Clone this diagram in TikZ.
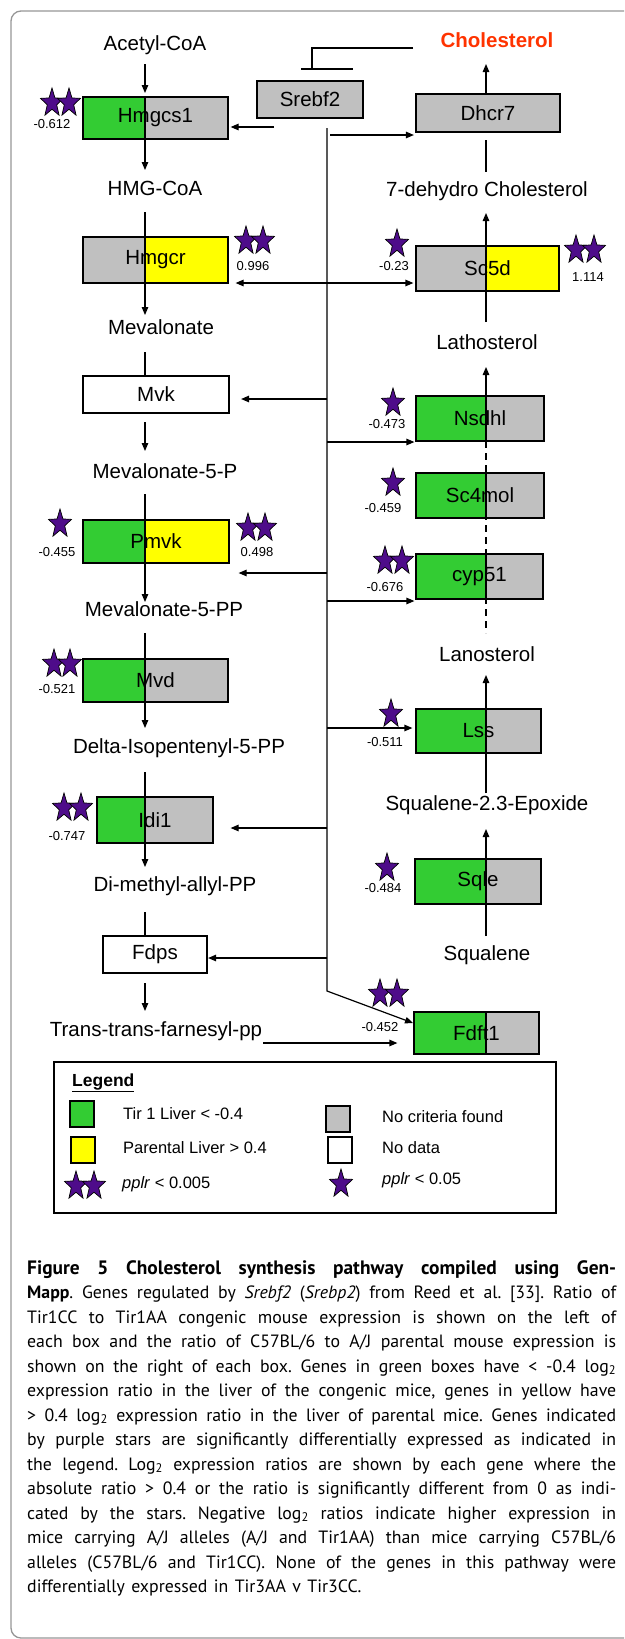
\documentclass[tikz,border=0pt]{standalone}
\usepackage{fontspec}
\setmainfont{Liberation Sans}
\newfontfamily\capfont[WordSpace=1.35]{PT Sans}
\usepackage{xcolor}
\usepackage{tikz}
\usetikzlibrary{arrows.meta}

\definecolor{tirgreen}{RGB}{51,204,51}
\definecolor{nocrit}{RGB}{192,192,192}
\definecolor{parentyellow}{RGB}{255,255,0}
\definecolor{starpurple}{RGB}{78,12,138}
\definecolor{cholred}{RGB}{255,51,0}
\definecolor{framegrey}{RGB}{150,150,150}

\newcommand{\capline}[1]{\makebox[589pt][s]{#1}}

\begin{document}
\frenchspacing
\begin{tikzpicture}[x=1pt,y=-1pt,
		gene/.style={draw,line width=1.2pt,inner sep=0pt,font=\fontsize{20.5}{24}\selectfont},
		metab/.style={inner sep=0pt,font=\fontsize{20.5}{24}\selectfont},
		ratio/.style={inner sep=0pt,font=\fontsize{13}{15}\selectfont},
		plain/.style={line width=1.2pt},
		conv/.style={line width=1.2pt,-{Triangle[length=8pt,width=6.5pt]}},
		dconv/.style={line width=1.2pt,{Triangle[length=8pt,width=6.5pt]}-{Triangle[length=8pt,width=6.5pt]}},
		keybox/.style={draw,line width=1.3pt,inner sep=0pt,minimum width=24pt,minimum height=26pt},
		legtext/.style={anchor=west,inner sep=0pt,font=\fontsize{16.5}{20}\selectfont},
		pstar/.pic={
			\draw[fill=starpurple,line width=0.7pt,yscale=1.25]
			(90:12pt) \foreach \a in {0,72,...,288}{ -- ({\a+126}:5pt) -- ({\a+162}:12pt)} -- cycle;
		}]
				\useasboundingbox (0,0) rectangle (624,1639);
				\clip (0,0) rectangle (624,1639);
				\draw[framegrey,line width=1.3pt,rounded corners=10pt] (640,11) -- (11,11) -- (11,1638) -- (640,1638);
				
				% two-colour genes: name/left/top/right/bottom/left colour/right colour/split
				\foreach \n/\xa/\ya/\xb/\yb/\cl/\cr/\sx in
				{Hmgcs1/83/97/228/139/tirgreen/nocrit/145, Hmgcr/83/237/228/283/nocrit/parentyellow/145,
				Pmvk/83/520/229/563/tirgreen/parentyellow/145, Mvd/83/659/228/702/tirgreen/nocrit/145,
				Idi1/97/797/213/843/tirgreen/nocrit/145, Sc5d/416/246/559/291/nocrit/parentyellow/486,
				Nsdhl/416/396/544/441/tirgreen/nocrit/486, Sc4mol/416/473/544/518/tirgreen/nocrit/486,
				cyp51/416/554/543/599/tirgreen/nocrit/486, Lss/416/709/541/753/tirgreen/nocrit/486,
				Sqle/415/859/541/904/tirgreen/nocrit/486, Fdft1/414/1012/539/1054/tirgreen/nocrit/486}{
					\fill[\cl] (\xa,\ya) rectangle (\sx,\yb);
					\fill[\cr] (\sx,\ya) rectangle (\xb,\yb);
					\draw[plain] (\sx,\ya) -- (\sx,\yb);
					\node[gene,minimum width=\xb-\xa,minimum height=\yb-\ya] (\n) at ({(\xa+\xb)/2},{(\ya+\yb)/2}) {\n};
				}
				
				% one-colour genes, heavy frame
				\foreach \n/\xa/\ya/\xb/\yb/\c in
				{Srebf2/257/81/363/118/nocrit, Dhcr7/416/94/560/132/nocrit,
				Mvk/83/376/229/413/white, Fdps/103/936/207/973/white}{
					\node[gene,line width=2.2pt,fill=\c,minimum width=\xb-\xa,minimum height=\yb-\ya] (\n) at ({(\xa+\xb)/2},{(\ya+\yb)/2}) {\n};
				}
				
				% metabolites
				\foreach \n/\x/\y/\t in
				{acetyl/155/45/Acetyl-CoA, hmgcoa/155/188/HMG-CoA, mev/161/327/Mevalonate,
				mevp/165/471/Mevalonate-5-P, mevpp/164/609/Mevalonate-5-PP,
				ipp/179/748/Delta-Isopentenyl-5-PP, dmapp/175/886/Di-methyl-allyl-PP,
				fpp/156/1031/Trans-trans-farnesyl-pp, dhc/487/191/7-dehydro Cholesterol,
				latho/487/342/Lathosterol, lano/487/654/Lanosterol,
				epox/487/805/Squalene-2.3-Epoxide, squa/487/955/Squalene}{
					\node[metab] (\n) at (\x,\y) {\t};
				}
				\node[metab,font=\bfseries\fontsize{20.5}{24}\selectfont,text=cholred] (chol) at (497,40) {Cholesterol};
				
				% left chain
				\foreach \n/\y in
				{0/64, 1/93, 2/139, 3/170, 4/212, 5/315, 6/352, 7/376, 8/422, 9/451,
				10/494, 11/602, 12/633, 13/728, 14/772, 15/867, 16/912, 17/936, 18/983, 19/1011}{
					\coordinate (l\n) at (145,\y);
				}
				\foreach \a/\b in {l0/l1, l2/l3, l4/l5, l8/l9, l10/l11, l12/l13, l14/l15, l18/l19}{
					\draw[conv] (\a)--(\b);
				}
				\foreach \a/\b in {l6/l7, l16/l17}{
					\draw[plain] (\a)--(\b);
				}
				
				% right chain
				\foreach \n/\y in
				{0/64, 1/94, 2/140, 3/172, 4/213, 5/322, 6/367, 7/441, 8/633, 9/675, 10/793, 11/829, 12/936}{
					\coordinate (r\n) at (486,\y);
				}
				\foreach \a/\b in {r1/r0, r5/r4, r7/r6, r10/r9, r12/r11}{
					\draw[conv] (\a)--(\b);
				}
				\draw[plain] (r2)--(r3);
				\draw[plain,dash pattern=on 7pt off 5pt] (r7)--(r8);
				
				% Srebf2 trunk
				\foreach \n/\y in
				{0/128, 1/399, 2/442, 3/573, 4/601, 5/728, 6/828, 7/958, 8/991}{
					\coordinate (s\n) at (327,\y);
				}
				\coordinate (fin) at (413,1023);
				\draw[conv] (s0)--(s8)--(fin);
				\foreach \s/\g/\e in {s1/Mvk/11, s3/Pmvk/9, s6/Idi1/17, s7/Fdps/0}{
					\draw[conv,shorten >=\e pt] (\s)--(\s -| \g.east);
				}
				\foreach \s/\g/\e in {s2/Nsdhl/1, s4/cyp51/1, s5/Lss/3}{
					\draw[conv,shorten >=\e pt] (\s)--(\s -| \g.west);
				}
				\coordinate (sb) at (274,127);
				\coordinate (sd) at (330,135);
				\draw[conv,shorten >=2pt] (sb)--(sb -| Hmgcs1.east);
				\draw[conv,shorten >=1pt] (sd)--(sd -| Dhcr7.west);
				\coordinate (hc) at (300,283);
				\draw[dconv,shorten <=7pt,shorten >=2pt] (hc -| Hmgcr.east)--(hc -| Sc5d.west);
				\coordinate (ft) at (263,1043);
				\draw[conv,shorten >=16pt] (ft)--(ft -| Fdft1.west);
				
				% feedback from cholesterol
				\foreach \n/\x/\y in {0/413/48, 1/312/48, 2/312/69, 3/301/69, 4/353/69}{
					\coordinate (i\n) at (\x,\y);
				}
				\draw[plain] (i0)--(i1)--(i2);
				\draw[plain] (i3)--(i4);
				
				% stars
				\foreach \x/\y in
				{52/103, 69/103, 246/241, 263/241, 60/524, 248/528, 265/528, 54/664, 70/664,
				64/808, 81/808, 397/244, 576/250, 594/250, 393/403, 393/483, 385/561, 402/561,
				391/714, 387/868, 380/994, 397/994, 76/1186, 94/1186, 341/1184}{
					\pic at (\x,\y) {pstar};
				}
				
				% log ratios
				\foreach \n/\x/\y/\v in
				{q1/52/124/-0.612, q2/253/266/0.996, q3/57/552/-0.455, q4/257/552/0.498,
				q5/57/689/-0.521, q6/67/836/-0.747, q7/394/266/-0.23, q8/588/277/1.114,
				q9/387/424/-0.473, q10/383/508/-0.459, q11/385/587/-0.676, q12/385/742/-0.511,
				q13/383/888/-0.484, q14/380/1027/-0.452}{
					\node[ratio] (\n) at (\x,\y) {\v};
				}
				
				% legend
				\node[draw,line width=1.3pt,minimum width=502pt,minimum height=151pt,inner sep=0pt] (legend) at (305,1137.5) {};
				\node[legtext,font=\bfseries\fontsize{17.5}{20}\selectfont] (legtitle) at (72,1083) {\underline{Legend}};
				\foreach \n/\x/\y/\c in {kg/82/1114/tirgreen, ky/83/1150/parentyellow, kc/338/1119/nocrit, kn/340/1150/white}{
					\node[keybox,fill=\c] (\n) at (\x,\y) {};
				}
				\node[legtext] (kgt) at (123,1114) {Tir 1 Liver < -0.4};
				\node[legtext] (kyt) at (123,1148) {Parental Liver > 0.4};
				\node[legtext] (kdt) at (122,1184) {\textit{pplr} < 0.005};
				\node[legtext] (kct) at (382,1117) {No criteria found};
				\node[legtext] (knt) at (382,1148) {No data};
				\node[legtext] (kst) at (382,1180) {\textit{pplr} < 0.05};
				
				% caption
				\node[anchor=north west,inner sep=0pt,align=left,font=\capfont\fontsize{17.8}{24.5}\selectfont] (caption) at (27,1260) {%
					\capline{\fontsize{19.4}{24.5}\selectfont\textbf{Figure 5 Cholesterol synthesis pathway compiled using Gen-}}\\
					\capline{\textbf{Mapp}. Genes regulated by \textit{Srebf2} (\textit{Srebp2}) from Reed et al. [33]. Ratio of}\\
					\capline{Tir1CC to Tir1AA congenic mouse expression is shown on the left of}\\
					\capline{each box and the ratio of C57BL/6 to A/J parental mouse expression is}\\
					\capline{shown on the right of each box. Genes in green boxes have < -0.4 log\textsubscript{2}}\\
					\capline{expression ratio in the liver of the congenic mice, genes in yellow have}\\
					\capline{> 0.4 log\textsubscript{2} expression ratio in the liver of parental mice. Genes indicated}\\
					\capline{by purple stars are significantly differentially expressed as indicated in}\\
					\capline{the legend. Log\textsubscript{2} expression ratios are shown by each gene where the}\\
					\capline{absolute ratio > 0.4 or the ratio is significantly different from 0 as indi-}\\
					\capline{cated by the stars. Negative log\textsubscript{2} ratios indicate higher expression in}\\
					\capline{mice carrying A/J alleles (A/J and Tir1AA) than mice carrying C57BL/6}\\
					\capline{alleles (C57BL/6 and Tir1CC). None of the genes in this pathway were}\\
					differentially expressed in Tir3AA v Tir3CC.};
\end{tikzpicture}
\end{document}
